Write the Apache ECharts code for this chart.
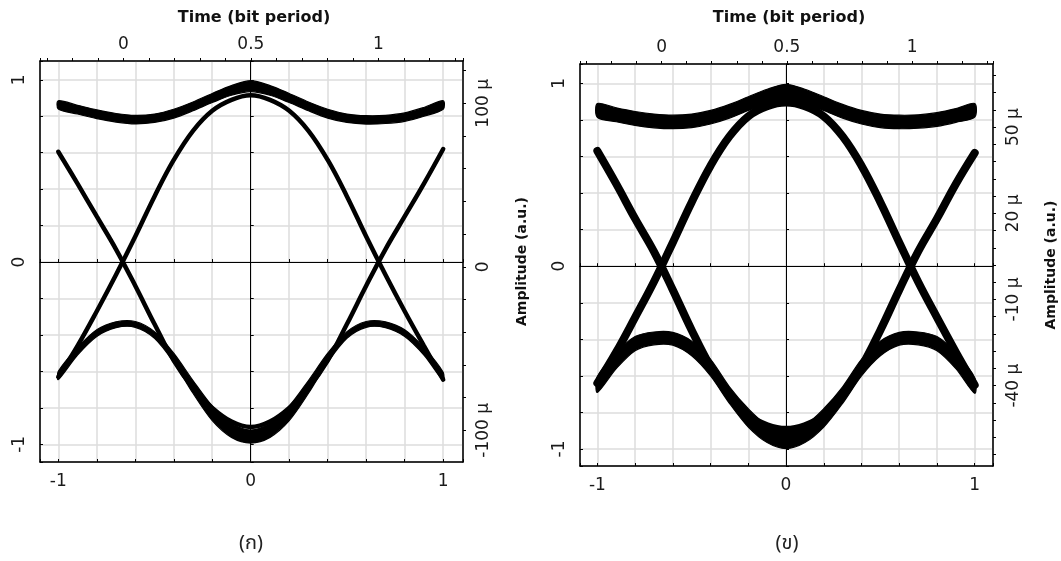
<!DOCTYPE html>
<html><head><meta charset="utf-8">
<script src="https://cdn.jsdelivr.net/npm/echarts@6/dist/echarts.min.js"></script>
<style>html,body{margin:0;padding:0;background:#fff}#c{width:1061px;height:561px}</style>
</head><body><div id="c"></div>
<script>
// shared time grid (bit period, lower axis)
const xs = [-1,-0.9,-0.8,-0.7,-0.6,-0.5,-0.4,-0.3,-0.2,-0.1,0,0.1,0.2,0.3,0.4,0.5,0.6,0.7,0.8,0.9,1];

// panel (ก)
const aUpperHi = [0.885,0.86,0.835,0.815,0.805,0.812,0.838,0.878,0.925,0.968,0.995,0.968,0.925,0.878,0.838,0.812,0.803,0.805,0.818,0.848,0.885];
const aUpperLo = [0.84,0.812,0.787,0.768,0.758,0.766,0.79,0.83,0.875,0.915,0.935,0.915,0.875,0.83,0.79,0.766,0.757,0.76,0.772,0.8,0.838];
const aLowerHi = [-0.6,-0.47,-0.372,-0.328,-0.326,-0.382,-0.5,-0.65,-0.79,-0.885,-0.922,-0.885,-0.79,-0.65,-0.5,-0.382,-0.326,-0.328,-0.372,-0.47,-0.605];
const aLowerLo = [-0.645,-0.51,-0.408,-0.36,-0.358,-0.418,-0.55,-0.72,-0.87,-0.962,-0.993,-0.962,-0.87,-0.72,-0.55,-0.418,-0.358,-0.36,-0.408,-0.51,-0.65];
const aRise = [-0.63,-0.46,-0.27,-0.07,0.14,0.36,0.56,0.72,0.83,0.89,0.915,0.89,0.83,0.72,0.56,0.36,0.14,-0.07,-0.27,-0.46,-0.645];
const aFall = [0.605,0.43,0.25,0.07,-0.13,-0.34,-0.54,-0.69,-0.8,-0.875,-0.905,-0.875,-0.8,-0.69,-0.54,-0.34,-0.13,0.07,0.25,0.43,0.62];

// panel (ข)
const bUpperHi = [0.89,0.866,0.846,0.832,0.826,0.832,0.852,0.885,0.927,0.968,0.995,0.968,0.927,0.885,0.852,0.832,0.826,0.828,0.84,0.862,0.89];
const bUpperLo = [0.815,0.79,0.77,0.757,0.752,0.758,0.778,0.81,0.852,0.89,0.91,0.89,0.852,0.81,0.778,0.758,0.752,0.755,0.765,0.787,0.815];
const bLowerHi = [-0.605,-0.475,-0.385,-0.36,-0.362,-0.41,-0.51,-0.66,-0.78,-0.87,-0.9,-0.87,-0.78,-0.66,-0.51,-0.41,-0.362,-0.36,-0.385,-0.475,-0.61];
const bLowerLo = [-0.69,-0.56,-0.462,-0.43,-0.432,-0.49,-0.6,-0.75,-0.88,-0.965,-0.998,-0.965,-0.88,-0.75,-0.6,-0.49,-0.432,-0.43,-0.462,-0.56,-0.695];
const bRise = [-0.64,-0.47,-0.28,-0.085,0.13,0.35,0.55,0.71,0.82,0.875,0.895,0.875,0.82,0.71,0.55,0.35,0.13,-0.085,-0.28,-0.47,-0.65];
const bFall = [0.63,0.45,0.26,0.08,-0.13,-0.35,-0.55,-0.71,-0.82,-0.875,-0.895,-0.875,-0.82,-0.71,-0.55,-0.35,-0.13,0.08,0.26,0.45,0.62];

// tick labels
const bottomLabels = [-1, 0, 1];
const topLabels = [0, 0.5, 1];
const leftLabels = [-1, 0, 1];
const aRightLabels = [-100, 0, 100];
const aRightTicks = [-100,-80,-60,-40,-20,0,20,40,60,80,100,120];
const bRightLabels = [-40, -10, 20, 50];
const bRightTicks = [-64,-58,-52,-46,-40,-34,-28,-22,-16,-10,-4,2,8,14,20,26,32,38,44,50,56,62,68];
const xTitle = 'Time (bit period)';
const yTitle = 'Amplitude (a.u.)';
const captions = ['(ก)', '(ข)'];

const FONT = 'DejaVu Sans';
const TXT = '#1a1a1a';
const GRIDC = '#dcdcdc';

function pts(vals) { return xs.map((x, i) => [x, vals[i]]); }

// filled band between hi and lo envelopes, placed with the axes' own scales
function band(hi, lo, xi, yi) {
  const data = xs.map((x, i) => [x, hi[i], lo[i]]);
  return {
    type: 'custom', xAxisIndex: xi, yAxisIndex: yi, silent: true, animation: false,
    encode: { x: 0, y: [1, 2] }, data,
    renderItem: function (params, api) {
      if (params.dataIndex !== 0) return null;
      const top = data.map(d => api.coord([d[0], d[1]]));
      const bot = data.map(d => api.coord([d[0], d[2]])).reverse();
      return {
        type: 'polygon',
        shape: { points: top.concat(bot), smooth: 0.3 },
        style: { fill: '#000', stroke: '#000', lineWidth: 1.2 }
      };
    }
  };
}
function trace(vals, xi, yi, w) {
  return { type: 'line', xAxisIndex: xi, yAxisIndex: yi, smooth: 0.4, symbol: 'none', silent: true,
    animation: false, data: pts(vals), lineStyle: { color: '#000', width: w, cap: 'round' } };
}

const lbl = { fontFamily: FONT, fontSize: 17, color: TXT };
const black = { color: '#000', width: 1.5 };

function bottomAxis(g, min, max) {
  return { type: 'value', gridIndex: g, position: 'bottom', min, max, minInterval: 0.2, maxInterval: 0.2,
    axisLine: { show: true, onZero: false, lineStyle: black },
    axisTick: { show: true, inside: true, length: 3, lineStyle: { color: '#000' } },
    axisLabel: Object.assign({ customValues: bottomLabels, margin: 11, formatter: v => String(v) }, lbl),
    splitLine: { show: true, lineStyle: { color: GRIDC, width: 1.5 } } };
}
function topAxis(g, min, max) {
  return { type: 'value', gridIndex: g, position: 'top', min, max, minInterval: 0.1, maxInterval: 0.1,
    axisLine: { show: true, onZero: false, lineStyle: black },
    axisTick: { show: true, inside: false, length: 3, lineStyle: { color: '#000' } },
    axisLabel: Object.assign({ customValues: topLabels, margin: 8, formatter: v => String(v) }, lbl),
    splitLine: { show: false } };
}
function crossX(g, min, max, yIdx) {
  return { type: 'value', gridIndex: g, position: 'bottom', min, max, minInterval: 0.2, maxInterval: 0.2,
    axisLine: { show: true, onZero: true, onZeroAxisIndex: yIdx, lineStyle: { color: '#000', width: 1 } },
    axisTick: { show: true, inside: true, length: 3, lineStyle: { color: '#000' } },
    axisLabel: { show: false }, splitLine: { show: false } };
}
function leftAxis(g, min, max) {
  return { type: 'value', gridIndex: g, position: 'left', min, max, minInterval: 0.2, maxInterval: 0.2,
    axisLine: { show: true, onZero: false, lineStyle: black },
    axisTick: { show: true, inside: true, length: 3, lineStyle: { color: '#000' } },
    axisLabel: Object.assign({ customValues: leftLabels, rotate: 90, margin: 12, formatter: v => String(v) }, lbl),
    splitLine: { show: true, lineStyle: { color: GRIDC, width: 1.5 } } };
}
function crossY(g, min, max, xIdx) {
  return { type: 'value', gridIndex: g, position: 'left', min, max, minInterval: 0.2, maxInterval: 0.2,
    axisLine: { show: true, onZero: true, onZeroAxisIndex: xIdx, lineStyle: { color: '#000', width: 1 } },
    axisTick: { show: true, inside: true, length: 3, lineStyle: { color: '#000' } },
    axisLabel: { show: false }, splitLine: { show: false } };
}
function rightAxis(g, min, max, labels, ticks, gap) {
  return { type: 'value', gridIndex: g, position: 'right', min, max,
    axisLine: { show: true, onZero: false, lineStyle: black },
    axisTick: { show: true, inside: false, length: 3, customValues: ticks, lineStyle: { color: '#000' } },
    axisLabel: Object.assign({ customValues: labels, rotate: 90, margin: 12,
      formatter: v => (v === 0 ? '0' : v + ' µ') }, lbl),
    splitLine: { show: false },
    name: yTitle, nameLocation: 'middle', nameRotate: 90, nameGap: gap,
    nameTextStyle: { fontFamily: FONT, fontSize: 14, fontWeight: 'bold', color: '#111' } };
}

const option = {
  backgroundColor: '#fff',
  animation: false,
  grid: [
    { left: 40, top: 61, width: 423, height: 401, show: true, borderColor: '#000', borderWidth: 1, backgroundColor: '#fff' },
    { left: 580, top: 64, width: 413, height: 402, show: true, borderColor: '#000', borderWidth: 1, backgroundColor: '#fff' }
  ],
  xAxis: [
    bottomAxis(0, -1.095, 1.103),
    topAxis(0, -0.327, 1.332),
    crossX(0, -1.095, 1.103, 0),
    bottomAxis(1, -1.092, 1.097),
    topAxis(1, -0.326, 1.323),
    crossX(1, -1.092, 1.097, 3)
  ],
  yAxis: [
    leftAxis(0, -1.097, 1.103),
    rightAxis(0, -119.4, 125.9, aRightLabels, aRightTicks, 52),
    crossY(0, -1.097, 1.103, 0),
    leftAxis(1, -1.093, 1.106),
    rightAxis(1, -68, 72, bRightLabels, bRightTicks, 51),
    crossY(1, -1.093, 1.106, 3)
  ],
  series: [
    band(aUpperHi, aUpperLo, 0, 0),
    band(aLowerHi, aLowerLo, 0, 0),
    trace(aRise, 0, 0, 4.5),
    trace(aFall, 0, 0, 4.5),
    band(bUpperHi, bUpperLo, 3, 3),
    band(bLowerHi, bLowerLo, 3, 3),
    trace(bRise, 3, 3, 8),
    trace(bFall, 3, 3, 8)
  ],
  graphic: [
    { type: 'text', x: 254, y: 18, style: { text: xTitle, font: 'bold 16px "DejaVu Sans"', fill: '#111', textAlign: 'center', textVerticalAlign: 'middle' } },
    { type: 'text', x: 789, y: 18, style: { text: xTitle, font: 'bold 16px "DejaVu Sans"', fill: '#111', textAlign: 'center', textVerticalAlign: 'middle' } },
    { type: 'text', x: 251, y: 545, style: { text: captions[0], font: '20px "Noto Sans Thai", "Noto Sans", "DejaVu Sans", sans-serif', fill: '#222', textAlign: 'center', textVerticalAlign: 'middle' } },
    { type: 'text', x: 787, y: 545, style: { text: captions[1], font: '20px "Noto Sans Thai", "Noto Sans", "DejaVu Sans", sans-serif', fill: '#222', textAlign: 'center', textVerticalAlign: 'middle' } }
  ]
};
const chart = echarts.init(document.getElementById('c'), null, { renderer: 'canvas' });
chart.setOption(option);
</script>
</body></html>
